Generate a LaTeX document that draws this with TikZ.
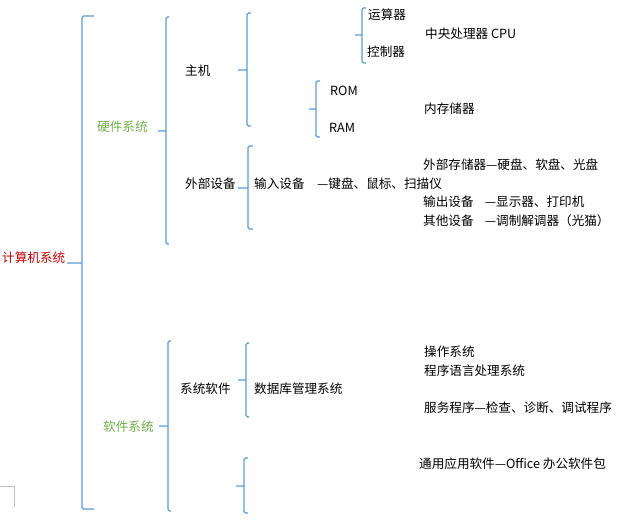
\documentclass[tikz,border=0pt]{standalone}
\usepackage{fontspec}
\setmainfont{Noto Sans CJK SC}
\usepackage{xcolor}
\usepackage{tikz}
\usetikzlibrary{positioning}
\definecolor{brkblue}{HTML}{5B9BD5}
\definecolor{hwgreen}{HTML}{70AD47}
\definecolor{rootred}{HTML}{C00000}
\tikzset{
  brk/.style={draw=brkblue, line width=1.3pt, rounded corners=1.5pt},
  lab/.style={anchor=west, inner sep=0pt, font=\fontsize{12.6}{14}\selectfont},
  sys/.style={lab, text=hwgreen},
  root/.style={lab, text=rootred},
  corner/.style={draw=black!25, line width=0.8pt}
}
\begin{document}
\begin{tikzpicture}[x=1pt,y=-1pt]
  \useasboundingbox (0,0) rectangle (634,519);
  % brackets
  \draw[brk] (94,16) -- (82,16) -- (82,509) -- (94,509) (82,263) -- (67,263);
  \draw[brk] (169,17) -- (166,17) -- (166,244) -- (169,244) (166,131) -- (158,131);
  \draw[brk] (251,13) -- (247,13) -- (247,126) -- (251,126) (247,70) -- (238,70);
  \draw[brk] (366,8) -- (362,8) -- (362,63) -- (366,63) (362,35) -- (355,35);
  \draw[brk] (320,81) -- (316,81) -- (316,137) -- (320,137) (316,109) -- (309,109);
  \draw[brk] (253,146) -- (248,146) -- (248,229) -- (253,229) (248,188) -- (238,188);
  \draw[brk] (171,341) -- (168,341) -- (168,511) -- (171,511) (168,426) -- (159,426);
  \draw[brk] (249,343) -- (246,343) -- (246,417) -- (249,417) (246,380) -- (238,380);
  \draw[brk] (248,458) -- (244,458) -- (244,513) -- (248,513) (244,486) -- (236,486);
  % page corner
  \draw[corner] (0,486) -- (14,486) -- (14,507);
  % labels
  \node[root] (comp) at (2,258) {计算机系统};
  \node[sys] (hw) at (97,127) {硬件系统};
  \node[sys] (sw) at (103,427) {软件系统};
  \node[lab] (host) at (185,71) {主机};
  \node[lab] (ext) at (185,184) {外部设备};
  \node[lab] (alu) at (368,15) {运算器};
  \node[lab] (ctl) at (367,52) {控制器};
  \node[lab] (cpu) at (425,34) {中央处理器 CPU};
  \node[lab] (rom) at (330,91) {ROM};
  \node[lab] (ram) at (329,128) {RAM};
  \node[lab] (mem) at (424,109) {内存储器};
  \node[lab] (store) at (423,165) {外部存储器—硬盘、软盘、光盘};
  \node[lab] (inp) at (254,184) {输入设备};
  \node[lab] (inpx) at (317,184) {—键盘、鼠标、扫描仪};
  \node[lab] (outp) at (423,202) {输出设备\hspace{0.9em}—显示器、打印机};
  \node[lab] (other) at (423,221) {其他设备\hspace{0.9em}—调制解调器（光猫）};
  \node[lab] (syssw) at (180,389) {系统软件};
  \node[lab] (db) at (254,389) {数据库管理系统};
  \node[lab] (os) at (424,352) {操作系统};
  \node[lab] (lang) at (424,371) {程序语言处理系统};
  \node[lab] (svc) at (424,408) {服务程序—检查、诊断、调试程序};
  \node[lab] (app) at (419,464) {通用应用软件—Office 办公软件包};
\end{tikzpicture}
\end{document}
